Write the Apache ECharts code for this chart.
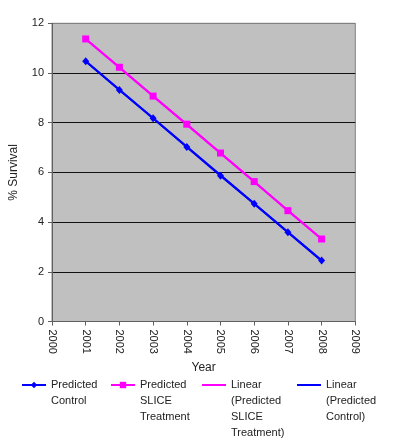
<!DOCTYPE html>
<html>
<head>
<meta charset="utf-8">
<script src="https://cdn.jsdelivr.net/npm/echarts@6/dist/echarts.min.js"></script>
<style>html,body{margin:0;padding:0;background:#fff;}#c{width:393px;height:442px;}</style>
</head>
<body>
<div id="c"></div>
<script>
var years = [2001, 2002, 2003, 2004, 2005, 2006, 2007, 2008];
var predictedControl = [10.47, 9.32, 8.18, 7.02, 5.87, 4.74, 3.59, 2.45];
var predictedSlice = [11.37, 10.23, 9.07, 7.94, 6.78, 5.63, 4.46, 3.32];
var trendSliceEnds = [[2001, 11.37], [2008, 3.32]];
var trendControlEnds = [[2001, 10.47], [2008, 2.45]];
var seriesNames = ['Predicted Control', 'Predicted SLICE Treatment', 'Linear (Predicted SLICE Treatment)', 'Linear (Predicted Control)'];
var legendLabels = ['Predicted\nControl', 'Predicted\nSLICE\nTreatment', 'Linear\n(Predicted\nSLICE\nTreatment)', 'Linear\n(Predicted\nControl)'];
var yTicks = [0, 2, 4, 6, 8, 10, 12];

var FONT = 'Liberation Sans, Arial, sans-serif';
var BLUE = '#0000FF', MAG = '#FF00FF';

function pairs(xs, ys) { return xs.map(function (x, i) { return [x, ys[i]]; }); }

var legendLeft = [21, 110, 201, 296];
var hideMarker = [false, false, true, true];
var LH = 16, IH = 8;
var legends = seriesNames.map(function (n, i) {
  var lines = legendLabels[i].split('\n').length;
  var rectTop = IH / 2 - (2 * lines - 1) * LH / 2;
  var pad = '';
  for (var k = 1; k < lines; k++) pad += '\n';
  return {
    data: [hideMarker[i] ? { name: n, itemStyle: { opacity: 0 } } : n],
    orient: 'horizontal',
    left: legendLeft[i],
    top: 385 - IH / 2 + rectTop,
    padding: 0,
    itemWidth: 24,
    itemHeight: IH,
    formatter: function () { return pad + legendLabels[i]; },
    textStyle: { fontFamily: FONT, fontSize: 11, color: '#222', lineHeight: LH }
  };
});

var chart = echarts.init(document.getElementById('c'), null, { renderer: 'canvas' });
chart.setOption({
  animation: false,
  backgroundColor: '#fff',
  textStyle: { fontFamily: FONT },
  grid: { left: 48.7, right: 37.7, top: 23.3, bottom: 120.5, show: true, backgroundColor: '#C0C0C0', borderColor: '#808080', borderWidth: 1 },
  legend: legends,
  xAxis: {
    type: 'value', min: 2000, max: 2009, interval: 1,
    name: 'Year', nameLocation: 'middle', nameGap: 38,
    nameTextStyle: { fontFamily: FONT, fontSize: 12, color: '#222' },
    axisLine: { show: true, lineStyle: { color: '#606060', width: 1 } },
    axisTick: { show: true, length: 4, lineStyle: { color: '#606060' } },
    axisLabel: { rotate: -90, margin: 8, fontFamily: FONT, fontSize: 11, color: '#222', formatter: function (v) { return String(v); } },
    splitLine: { show: false }
  },
  yAxis: {
    type: 'value', min: 0, max: 12, interval: 2,
    name: '% Survival', nameLocation: 'middle', nameGap: 32,
    nameTextStyle: { fontFamily: FONT, fontSize: 12, color: '#222' },
    axisLine: { show: true, lineStyle: { color: '#606060', width: 1 } },
    axisTick: { show: true, length: 4, lineStyle: { color: '#606060' } },
    axisLabel: { margin: 8, fontFamily: FONT, fontSize: 11, color: '#222', formatter: function (v) { return String(v); } },
    splitLine: { show: true, lineStyle: { color: ['#606060', '#111', '#111', '#111', '#111', '#111', '#808080'], width: 1 } }
  },
  series: [
    { name: seriesNames[0], type: 'line', data: pairs(years, predictedControl), color: BLUE,
      lineStyle: { color: BLUE, width: 2 }, symbol: 'diamond', symbolSize: [7, 8], itemStyle: { color: BLUE }, z: 3 },
    { name: seriesNames[1], type: 'line', data: pairs(years, predictedSlice), color: MAG,
      lineStyle: { color: MAG, width: 2 }, symbol: 'rect', symbolSize: 7, itemStyle: { color: MAG }, z: 3 },
    { name: seriesNames[2], type: 'line', data: trendSliceEnds, color: MAG,
      lineStyle: { color: MAG, width: 2 }, symbol: 'none', z: 2 },
    { name: seriesNames[3], type: 'line', data: trendControlEnds, color: BLUE,
      lineStyle: { color: BLUE, width: 2 }, symbol: 'none', z: 2 }
  ]
});
</script>
</body>
</html>
